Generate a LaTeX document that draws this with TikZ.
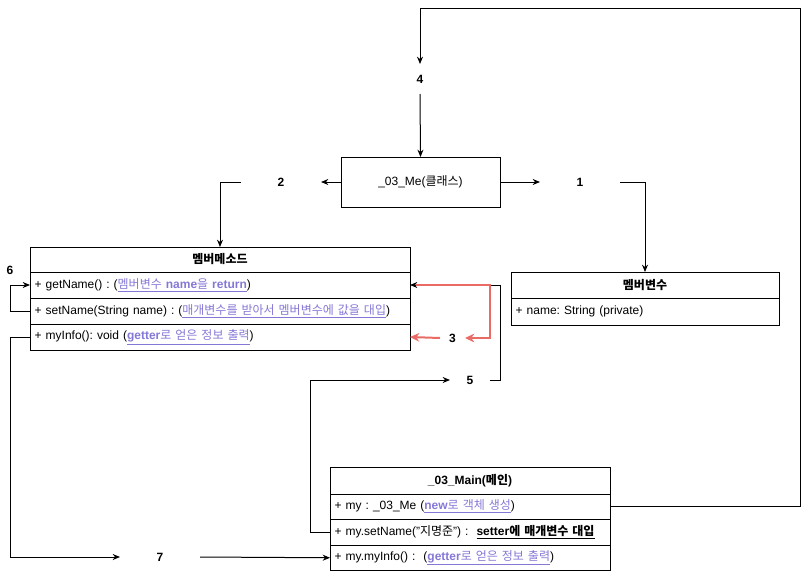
\documentclass[tikz,border=0pt]{standalone}
\usepackage{fontspec}
\setmainfont{Liberation Sans}
\newfontfamily\kr{Noto Sans CJK KR}
\usepackage{xcolor}
\usetikzlibrary{arrows.meta,positioning}
\frenchspacing

\definecolor{linkc}{RGB}{132,120,214}
\definecolor{redc}{RGB}{234,107,102}

% link text: purple, underlined
\newcommand{\lnk}[1]{\textcolor{linkc}{\underline{#1}}}

\tikzset{
  base/.style={font=\fontsize{9}{11}\selectfont, outer sep=0pt},
  hdr/.style={base, draw, font=\fontsize{9}{11}\selectfont\bfseries, minimum height=#1},
  mrow/.style={base, draw, align=left, inner xsep=3.5pt, text width=278pt, minimum height=19.5pt},
  vrow/.style={base, draw, align=left, inner xsep=3.5pt, text width=194pt, minimum height=20.25pt},
  crow/.style={base, draw, align=left, inner xsep=3.5pt, text width=203pt, minimum height=19.125pt},
  numlbl/.style={base, font=\fontsize{9}{11}\selectfont\bfseries, minimum height=22.5pt},
  arr/.style={-{Stealth[length=5.5pt,width=4.5pt]}, line width=0.75pt},
  rarr/.style={-{Stealth[length=7pt,width=6.5pt]}, draw=redc, line width=1.5pt}
}

\begin{document}
\begin{tikzpicture}[x=0.75pt, y=-0.75pt]
  \useasboundingbox (0,0) rectangle (809,575);

  % Class box
  \node[base, draw, minimum width=119.25pt, minimum height=37.5pt] (me) at (420.5,182) {\_03\_Me({\kr 클래스})};

  % Member methods
  \node[hdr=18.75pt, minimum width=285pt, anchor=north] (mhead) at (220,247) {\kr 멤버메소드};
  \node[mrow, below=0pt of mhead] (getn) {+ getName() : (\lnk{{\kr 멤버변수} \textbf{name}{\kr 을} \textbf{return}})};
  \node[mrow, below=0pt of getn] (setn) {+ setName(String name) : (\lnk{\kr 매개변수를 받아서 멤버변수에 값을 대입})};
  \node[mrow, below=0pt of setn] (info) {+ myInfo(): void (\lnk{\textbf{getter}{\kr 로 얻은 정보 출력}})};

  % Member variables
  \node[hdr=19.5pt, minimum width=201pt, anchor=north] (vhead) at (645,272) {\kr 멤버변수};
  \node[vrow, below=0pt of vhead] (vname) {+ name: String (private)};

  % Main class
  \node[hdr=20.25pt, minimum width=210pt, anchor=north] (chead) at (470,467) {\_03\_Main({\kr 메인})};
  \node[crow, below=0pt of chead] (cmy) {+ my : \_03\_Me (\lnk{\textbf{new}{\kr 로 객체 생성}})};
  \node[crow, below=0pt of cmy] (cset) {+ my.setName("{\kr 지명준}") : \ \underline{\textbf{setter}{\kr\bfseries 에 매개변수 대입}}};
  \node[crow, below=0pt of cset] (cinfo) {+ my.myInfo() : \ (\lnk{\textbf{getter}{\kr 로 얻은 정보 출력}})};

  % Step numbers
  \foreach \n/\x/\y/\w in {1/580/182/60pt, 2/281/182/60pt, 3/452.5/338/18.75pt, 4/420/79/45pt, 5/470/380/30pt, 7/160/557/60pt} {
    \node[numlbl, minimum width=\w] (l\n) at (\x,\y) {\n};
  }
  \node[numlbl] (l6) at (10,270) {6};

  % 1: class -> member variables
  \draw[arr] (me.east) -- (l1.west);
  \draw[arr] (l1.east) -| (vhead.north);

  % 2: class -> member methods
  \draw[arr] (me.west) -- (l2.east);
  \draw[arr] (l2.west) -| (mhead.north);

  % 4: main object -> class
  \coordinate (topr) at (800,8);
  \draw[arr] (cmy.east) -| (topr) -| (l4.north);
  \draw[arr] (l4.south) -- (me.north);

  % 5: setter call -> getName
  \draw[arr] (cset.west) -- ++(-20,0) |- (l5.west);
  \draw[arr] (l5.east) -- ++(10,0) |- (getn.east);

  % 3: getName -> myInfo
  \draw[rarr] (getn.east) ++(6,0) -- ++(74,0) |- (l3.east);
  \draw[rarr] (l3.west) -- (info.east);

  % 6: setName -> getName
  \draw[arr] (setn.west) -- ++(-20,0) |- (getn.west);

  % 7: myInfo -> main call
  \draw[arr] (info.west) -- ++(-20,0) |- (l7.west);
  \draw[arr] (l7.east) -- (cinfo.west);
\end{tikzpicture}
\end{document}
